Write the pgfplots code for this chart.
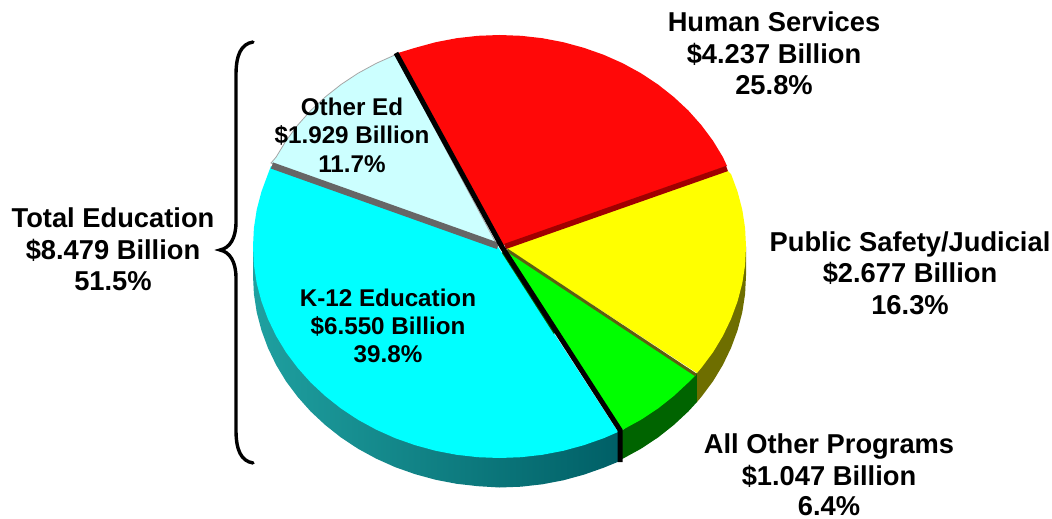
\documentclass[border=0pt]{standalone}
\usepackage{pgfplots}
\usepackage{fontspec}
\setmainfont{Liberation Sans}
\pgfplotsset{compat=1.18}
\definecolor{cRed}{HTML}{FF0808}
\definecolor{cYel}{HTML}{FFFF00}
\definecolor{cGrn}{HTML}{00FF00}
\definecolor{cCya}{HTML}{00FFFF}
\definecolor{cOth}{HTML}{CCFFFF}
\definecolor{sA}{HTML}{1FA0A0}
\definecolor{sB}{HTML}{0A7F7F}
\definecolor{sC}{HTML}{005F66}
\definecolor{sY}{HTML}{6E6E00}
\definecolor{sG}{HTML}{006400}
\definecolor{bR}{HTML}{A00000}
\definecolor{bY}{HTML}{5E5E10}
\newcommand{\lblO}{\fontsize{27.3}{30}\selectfont\bfseries}
\newcommand{\lblI}{\fontsize{24.2}{28}\selectfont\bfseries}
\tikzset{every node/.append style={inner sep=0pt,outer sep=0pt}}
\begin{document}
\begin{tikzpicture}
\begin{axis}[scale only axis,width=1052pt,height=519pt,xmin=0,xmax=1052,ymin=0,ymax=519,
  y dir=reverse,hide axis,clip=false]
% sides
\addplot[draw=none,left color=sA,middle color=sB,right color=sC] coordinates {
(253.0,246.5)(253.0,275.5)(253.9,293.9)(256.7,312.2)(261.4,330.2)(267.9,347.8)(276.1,364.9)(286.0,381.3)(297.6,396.8)(310.7,411.5)(325.2,425.0)(341.0,437.5)(358.1,448.8)(376.3,458.7)(395.3,467.2)(415.2,474.2)(435.7,479.8)(456.7,483.8)(478.0,486.2)(499.5,487.5)(521.0,486.7)(542.3,484.3)(563.3,480.3)(583.8,474.7)(603.7,467.7)(620,461)(620,432)} -- cycle;
\addplot[draw=none,fill=sG] coordinates {
(620,460.5)(622.8,458.7)(640.9,448.8)(658.0,437.5)(673.8,425.0)(688.3,411.5)(697,402)(697,373)(620,432)} -- cycle;
\addplot[draw=none,fill=sY] coordinates {
(697,402)(701.4,396.8)(713.0,381.3)(722.9,364.9)(731.1,347.8)(737.6,330.2)(742.3,312.2)(745.1,293.9)(746,275.5)(746,246.5)(697,373)} -- cycle;
% top faces
\addplot[draw=none,fill=cCya] coordinates {
(498,247)(618,432)(603.7,438.2)(583.8,445.2)(563.3,450.8)(542.3,454.8)(521.0,457.2)(499.5,458.0)(478.0,457.2)(456.7,454.8)(435.7,450.8)(415.2,445.2)(395.3,438.2)(376.3,429.7)(358.1,419.8)(341.0,408.5)(325.2,396.0)(310.7,382.5)(297.6,367.8)(286.0,352.3)(276.1,335.9)(267.9,318.8)(261.4,301.2)(256.7,283.2)(253.9,264.9)(253.0,246.5)(253.9,228.1)(256.7,209.8)(261.4,191.8)(267.9,174.2)(271,166)} -- cycle;
\addplot[draw=gray!70,line width=0.8pt,fill=cOth] coordinates {
(497,245)(271,163)(276.1,157.1)(286.0,140.8)(297.6,125.2)(310.7,110.5)(325.2,97.0)(341.0,84.5)(358.1,73.2)(376.3,63.3)(395.3,54.8)} -- cycle;
\addplot[draw=none,fill=cRed] coordinates {
(503,245)(398,53)(415.2,47.8)(435.7,42.2)(456.7,38.2)(478.0,35.8)(499.5,35.0)(521.0,35.8)(542.3,38.2)(563.3,42.2)(583.8,47.8)(603.7,54.8)(622.8,63.3)(640.9,73.2)(658.0,84.5)(673.8,97.0)(688.3,110.5)(701.4,125.2)(713.0,140.8)(722.9,157.1)(727,166)} -- cycle;
\addplot[draw=none,fill=cYel] coordinates {
(506,248)(727,170)(731.1,174.2)(737.6,191.8)(742.3,209.8)(745.1,228.1)(746.0,246.5)(745.1,264.9)(742.3,283.2)(737.6,301.2)(731.1,318.8)(722.9,335.9)(713.0,352.3)(701.4,367.8)(697,373)} -- cycle;
\addplot[draw=none,fill=cGrn] coordinates {
(506,250)(696,375)(688.3,382.5)(673.8,396.0)(658.0,408.5)(640.9,419.8)(622.8,429.7)(620,431)} -- cycle;
% separating bands
\addplot[line width=5.5pt,color=bR] coordinates {(505,246.5)(727,168.5)};
\addplot[line width=3pt,color=bY] coordinates {(507,250)(696,375)};
\addplot[line width=6.5pt,color=black!60] coordinates {(272,165.5)(498,246)};
\addplot[line width=3pt,color=sG] coordinates {(503,252)(555,333)};
\addplot[line width=5pt,color=black] coordinates {(396,53)(502,247)(620,430)(620,462)};
% brace
\draw[line width=3.4pt,line cap=round] (axis cs:253,42) .. controls (axis cs:241,44) and (axis cs:236,55) .. (axis cs:236,75)
 -- (axis cs:236,222) .. controls (axis cs:236,238) and (axis cs:230,248) .. (axis cs:220,250)
 .. controls (axis cs:230,252) and (axis cs:236,262) .. (axis cs:236,278)
 -- (axis cs:236,430) .. controls (axis cs:236,450) and (axis cs:241,461) .. (axis cs:253,463);
% labels
\node[anchor=base,font=\lblO] at (axis cs:774,32) {Human Services};
\node[anchor=base,font=\lblO] at (axis cs:774,64) {\$4.237 Billion};
\node[anchor=base,font=\lblO] at (axis cs:774,95) {25.8\%};
\node[anchor=base,font=\lblO] at (axis cs:910,251) {Public Safety/Judicial};
\node[anchor=base,font=\lblO] at (axis cs:910,282) {\$2.677 Billion};
\node[anchor=base,font=\lblO] at (axis cs:910,314) {16.3\%};
\node[anchor=base,font=\lblO] at (axis cs:829,453) {All Other Programs};
\node[anchor=base,font=\lblO] at (axis cs:829,485) {\$1.047 Billion};
\node[anchor=base,font=\lblO] at (axis cs:829,515) {6.4\%};
\node[anchor=base,font=\lblO] at (axis cs:113,227) {Total Education};
\node[anchor=base,font=\lblO] at (axis cs:113,259) {\$8.479 Billion};
\node[anchor=base,font=\lblO] at (axis cs:113,290) {51.5\%};
\node[anchor=base,font=\lblI] at (axis cs:388,306) {K-12 Education};
\node[anchor=base,font=\lblI] at (axis cs:388,334) {\$6.550 Billion};
\node[anchor=base,font=\lblI] at (axis cs:388,362) {39.8\%};
\node[anchor=base,font=\lblI] at (axis cs:352,116) {Other Ed};
\node[anchor=base,font=\lblI] at (axis cs:352,144) {\$1.929 Billion};
\node[anchor=base,font=\lblI] at (axis cs:352,172) {11.7\%};
\end{axis}
\path[use as bounding box] (0,0) rectangle (1052pt,519pt);
\end{tikzpicture}
\end{document}
